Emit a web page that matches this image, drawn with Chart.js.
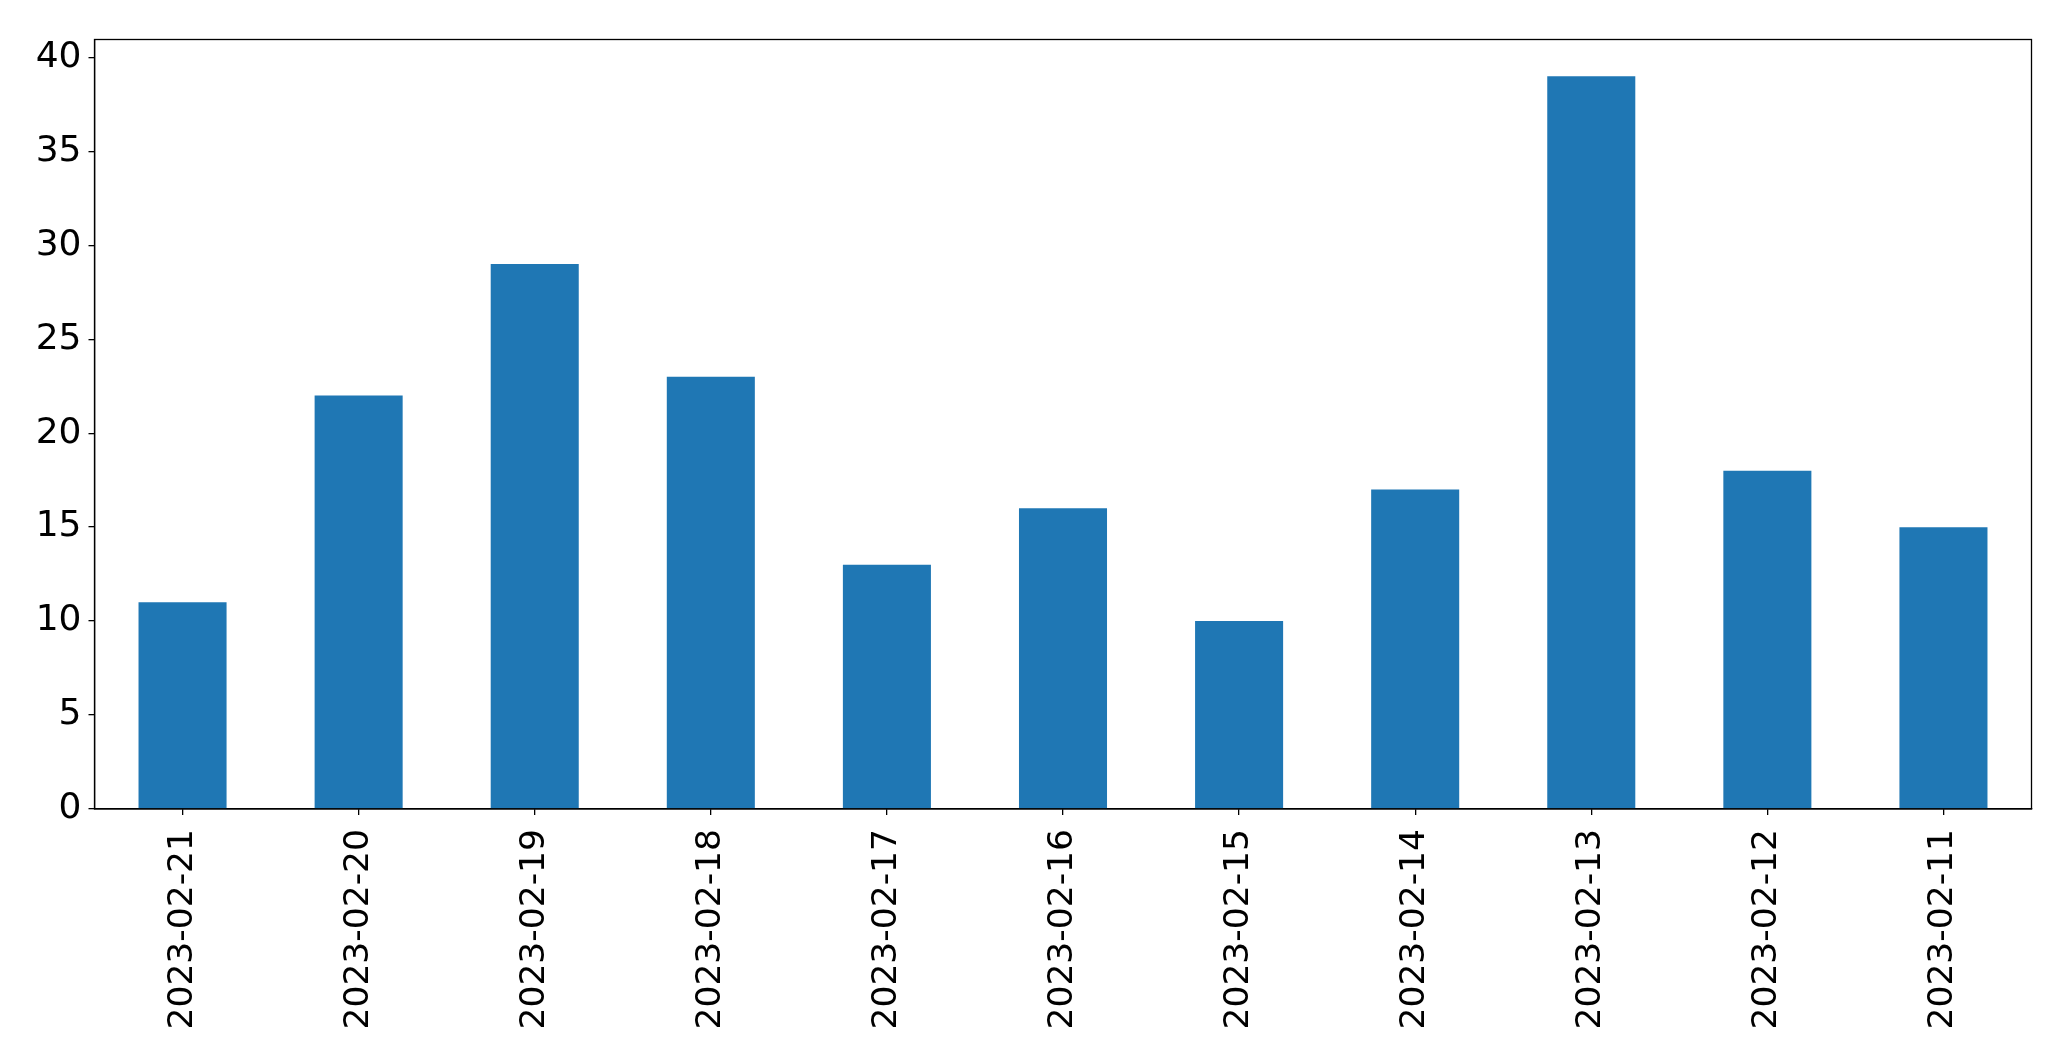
<!DOCTYPE html>
<html>
<head>
<meta charset="utf-8">
<script src="https://cdn.jsdelivr.net/npm/chart.js@4.4.0/dist/chart.umd.min.js"></script>
<style>
html,body{margin:0;padding:0;background:#fff;}
#wrap{width:2071px;height:1061px;position:relative;}
</style>
</head>
<body>
<div id="wrap"><canvas id="c" width="2071" height="1061"></canvas></div>
<script>
const categories = ["2023-02-21","2023-02-20","2023-02-19","2023-02-18","2023-02-17","2023-02-16","2023-02-15","2023-02-14","2023-02-13","2023-02-12","2023-02-11"];
const counts = [11, 22, 29, 23, 13, 16, 10, 17, 39, 18, 15];
const yTicks = [0, 5, 10, 15, 20, 25, 30, 35, 40];
const yMax = 40.95;

const frame = {
  id: 'frame',
  afterDatasetsDraw(chart) {
    const a = chart.chartArea, ctx = chart.ctx;
    ctx.save();
    ctx.strokeStyle = '#000';
    ctx.lineWidth = 1.3;
    ctx.strokeRect(a.left, a.top, a.right - a.left, a.bottom - a.top);
    ctx.restore();
  }
};

new Chart(document.getElementById('c'), {
  type: 'bar',
  data: {
    labels: categories,
    datasets: [{
      data: counts,
      backgroundColor: '#1f77b4',
      borderWidth: 0,
      categoryPercentage: 1.0,
      barPercentage: 0.5
    }]
  },
  options: {
    responsive: false,
    animation: false,
    devicePixelRatio: 1,
    layout: { padding: { left: 0, top: 39.5, right: 39.5, bottom: 0 } },
    plugins: { legend: { display: false }, tooltip: { enabled: false } },
    scales: {
      x: {
        type: 'category',
        offset: true,
        grid: { display: true, offset: false, drawOnChartArea: false, drawTicks: true, tickLength: 6, color: '#000', lineWidth: 1.3 },
        border: { display: true, color: '#000', width: 1.3 },
        ticks: {
          color: '#000',
          font: { family: 'DejaVu Sans', size: 34.5 },
          maxRotation: 90, minRotation: 90,
          autoSkip: false,
          padding: 14
        },
        afterFit(scale) { scale.height = 252; }
      },
      y: {
        min: 0,
        max: yMax,
        grid: { display: true, drawOnChartArea: false, drawTicks: true, tickLength: 6, color: '#000', lineWidth: 1.3 },
        border: { display: true, color: '#000', width: 1.3 },
        ticks: {
          color: '#000',
          font: { family: 'DejaVu Sans', size: 36 },
          padding: 7
        },
        afterBuildTicks(scale) { scale.ticks = yTicks.map(v => ({ value: v })); },
        afterFit(scale) { scale.width = 94.5; }
      }
    }
  },
  plugins: [frame]
});
</script>
</body>
</html>
